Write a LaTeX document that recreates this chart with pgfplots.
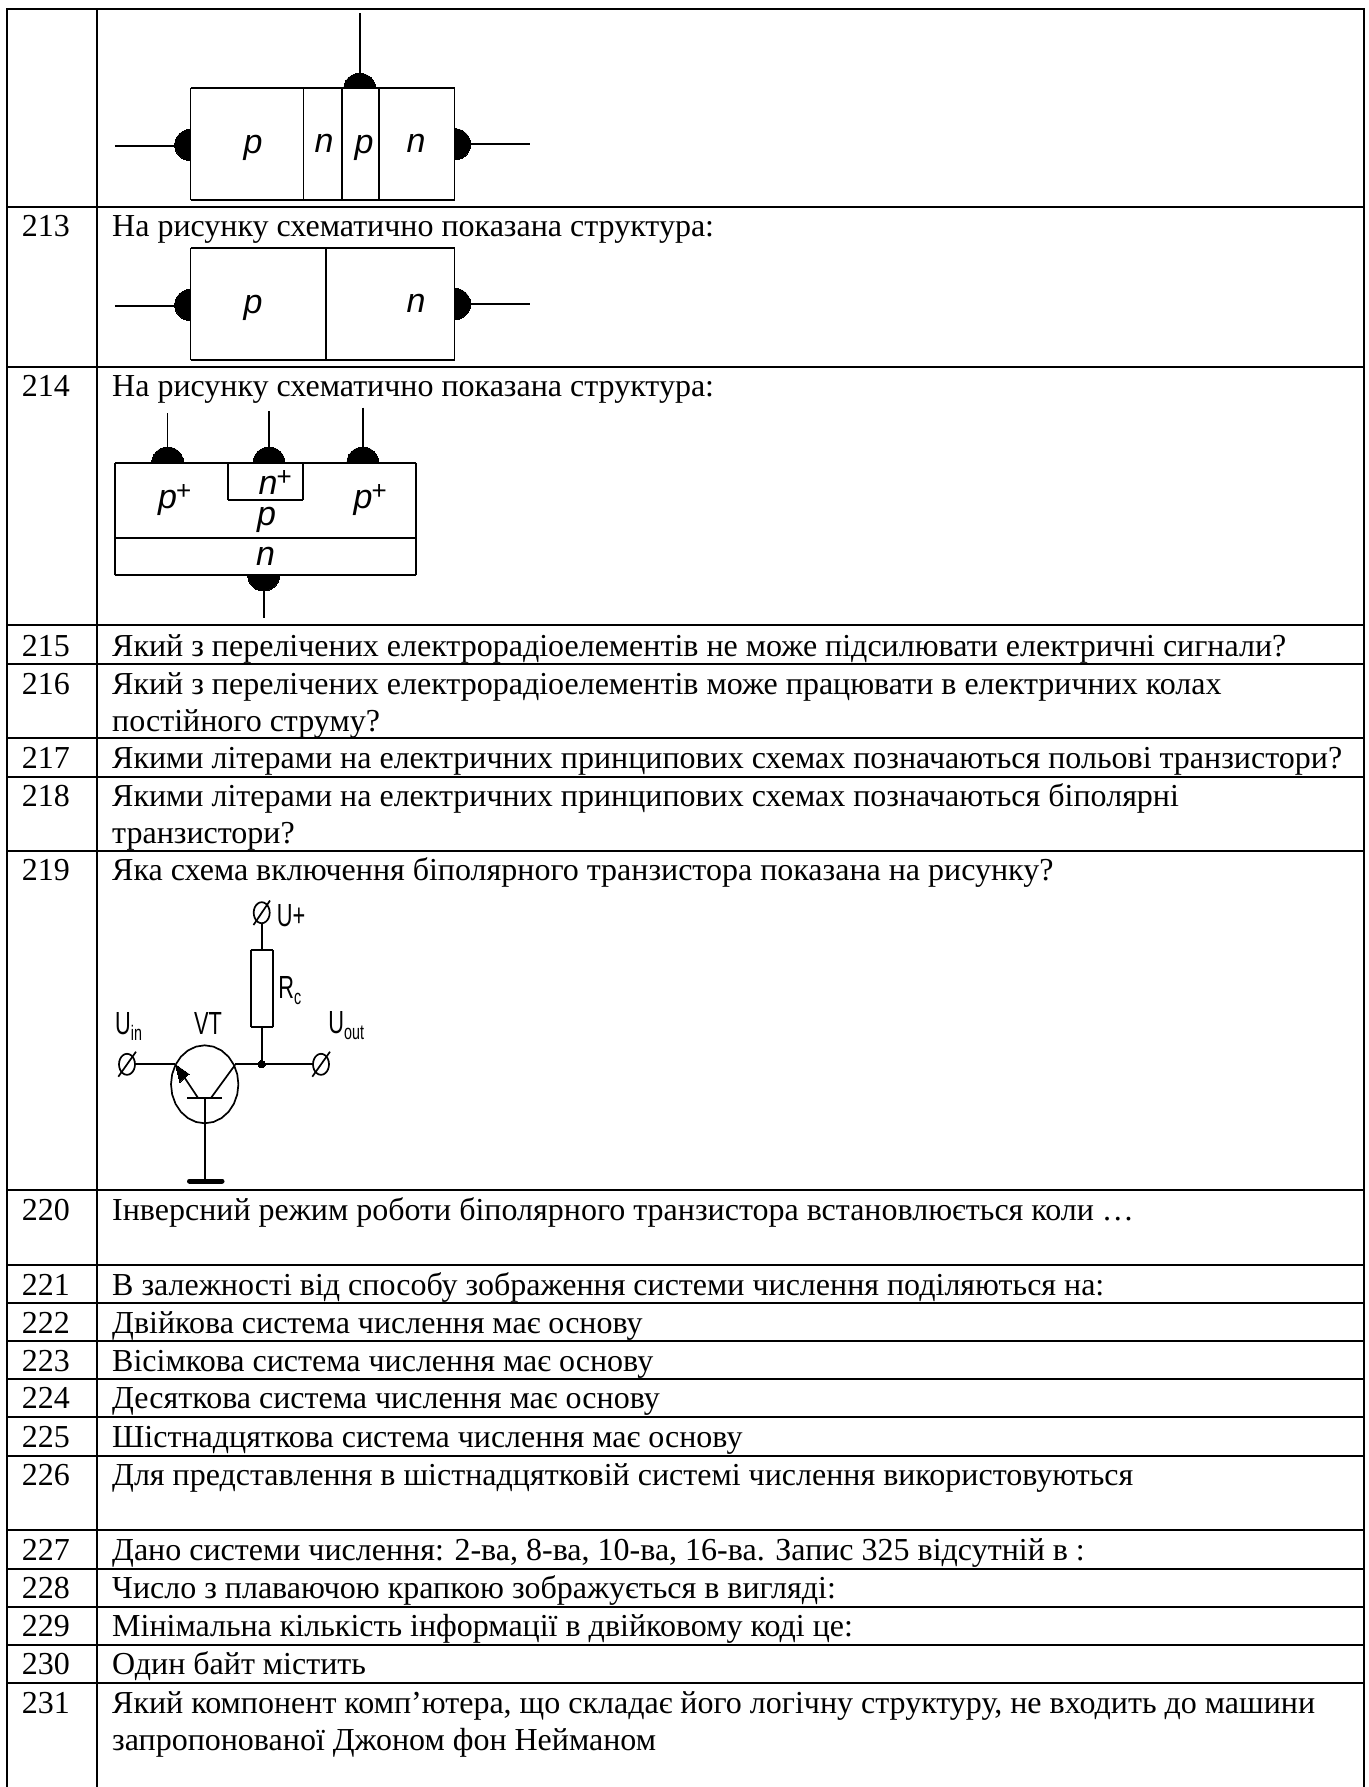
\documentclass[border=0pt]{standalone}
\usepackage{fontspec}
\setmainfont{Liberation Serif}
\newfontfamily\arialf{Liberation Sans}
\usepackage{pgfplots}
\usepackage{pgfplotstable}
\pgfplotsset{compat=1.18}
\pgfplotstableread{
u v
1 0
.966 .259
.866 .5
.707 .707
.5 .866
.259 .966
0 1
-.259 .966
-.5 .866
-.707 .707
-.866 .5
-.966 .259
-1 0
}\halfdisc
\pgfplotstableread{
u v
1 0
.966 .259
.866 .5
.707 .707
.5 .866
.259 .966
0 1
-.259 .966
-.5 .866
-.707 .707
-.866 .5
-.966 .259
-1 0
-.966 -.259
-.866 -.5
-.707 -.707
-.5 -.866
-.259 -.966
0 -1
.259 -.966
.5 -.866
.707 -.707
.866 -.5
.966 -.259
1 0
}\fulldisc
% table rule
\newcommand\myrl[4]{\addplot[black,line width=2pt] coordinates {(#1,#2)(#3,#4)};}
% diagram wire
\newcommand\mywr[4]{\addplot[black,line width=1.7pt] coordinates {(#1,#2)(#3,#4)};}
% half discs: vertical-facing (sy<0 = up) and horizontal-facing (sx<0 = left)
\newcommand\hdv[4]{\addplot[black,fill=black,line width=0pt] table[x expr=#1+#3*\thisrow{u},y expr=#2+#4*\thisrow{v}] {\halfdisc} -- cycle;}
\newcommand\hdh[4]{\addplot[black,fill=black,line width=0pt] table[x expr=#1+#3*\thisrow{v},y expr=#2+#4*\thisrow{u}] {\halfdisc} -- cycle;}
\newcommand\myel[4]{\addplot[black,line width=1.7pt] table[x expr=#1+#3*\thisrow{u},y expr=#2+#4*\thisrow{v}] {\fulldisc};}
\newcommand\mynum[2]{\node[anchor=base west,inner sep=0pt] at (axis cs:21.7,#1) {\fontsize{32}{36}\selectfont #2};}
\newcommand\mytxt[2]{\node[anchor=base west,inner sep=0pt] at (axis cs:112,#1) {\fontsize{32}{36}\selectfont #2};}
\newcommand\mylab[3]{\node[anchor=base west,inner sep=0pt] at (axis cs:#1,#2) {\arialf\itshape\fontsize{34}{38}\selectfont #3};}
\newcommand\myplus{\kern-1pt\raisebox{9pt}{\upshape\fontsize{26}{30}\selectfont +}}
\newcommand\mynar[3]{\node[anchor=base west,inner sep=0pt,xscale=0.68] at (axis cs:#1,#2) {\arialf\fontsize{32}{36}\selectfont #3};}
\newcommand\mysb[1]{\raisebox{-6pt}{\fontsize{21}{24}\selectfont #1}}
\begin{document}
\begin{tikzpicture}
\begin{axis}[
  width=1368pt,height=1787pt,scale only axis,
  xmin=0,xmax=1368,ymin=0,ymax=1787,y dir=reverse,
  hide axis,
]
\addplot[white,fill=white,line width=0pt] coordinates {(0,0)(1368,0)(1368,1787)(0,1787)} -- cycle;
% table frame
\myrl{7}{9}{7}{1787}
\myrl{97}{9}{97}{1787}
\myrl{1364}{9}{1364}{1787}
\myrl{6}{9}{1365}{9}
\myrl{6}{207}{1365}{207}
\myrl{6}{367}{1365}{367}
\myrl{6}{625}{1365}{625}
\myrl{6}{663.5}{1365}{663.5}
\myrl{6}{737.7}{1365}{737.7}
\myrl{6}{777}{1365}{777}
\myrl{6}{851}{1365}{851}
\myrl{6}{1190}{1365}{1190}
\myrl{6}{1265}{1365}{1265}
\myrl{6}{1303}{1365}{1303}
\myrl{6}{1341}{1365}{1341}
\myrl{6}{1379}{1365}{1379}
\myrl{6}{1417}{1365}{1417}
\myrl{6}{1456}{1365}{1456}
\myrl{6}{1530}{1365}{1530}
\myrl{6}{1568.7}{1365}{1568.7}
\myrl{6}{1606.7}{1365}{1606.7}
\myrl{6}{1644.7}{1365}{1644.7}
\myrl{6}{1682.7}{1365}{1682.7}
% row numbers
\mynum{237}{213}
\mynum{396}{214}
\mynum{656}{215}
\mynum{694.3}{216}
\mynum{768.3}{217}
\mynum{806.7}{218}
\mynum{880.7}{219}
\mynum{1220}{220}
\mynum{1295}{221}
\mynum{1333.3}{222}
\mynum{1371}{223}
\mynum{1408.5}{224}
\mynum{1447}{225}
\mynum{1485}{226}
\mynum{1560.7}{227}
\mynum{1598.5}{228}
\mynum{1636.7}{229}
\mynum{1674.5}{230}
\mynum{1713}{231}
% row text
\mytxt{237}{На рисунку схематично показана структура:}
\mytxt{396}{На рисунку схематично показана структура:}
\mytxt{656}{Який з перелічених електрорадіоелементів не може підсилювати електричні сигнали?}
\mytxt{694.3}{Який з перелічених електрорадіоелементів може працювати в електричних колах}
\mytxt{731}{постійного струму?}
\mytxt{768.3}{Якими літерами на електричних принципових схемах позначаються польові транзистори?}
\mytxt{806.7}{Якими літерами на електричних принципових схемах позначаються біполярні}
\mytxt{843.3}{транзистори?}
\mytxt{880.7}{Яка схема включення біполярного транзистора показана на рисунку?}
\mytxt{1220}{Інверсний режим роботи біполярного транзистора встановлюється коли …}
\mytxt{1295}{В залежності від способу зображення системи числення поділяються на:}
\mytxt{1333.3}{Двійкова система числення має основу}
\mytxt{1371}{Вісімкова система числення має основу}
\mytxt{1408.5}{Десяткова система числення має основу}
\mytxt{1447}{Шістнадцяткова система числення має основу}
\mytxt{1485}{Для представлення в шістнадцятковій системі числення використовуються}
\mytxt{1560.7}{Дано системи числення: 2-ва, 8-ва, 10-ва, 16-ва. Запис 325 відсутній в :}
\mytxt{1598.5}{Число з плаваючою крапкою зображується в вигляді:}
\mytxt{1636.7}{Мінімальна кількість інформації в двійковому коді це:}
\mytxt{1674.5}{Один байт містить}
\mytxt{1713}{Який компонент комп’ютера, що складає його логічну структуру, не входить до машини}
\mytxt{1750}{запропонованої Джоном фон Нейманом}
% diagram 1
\mywr{190.6}{88.3}{454.6}{88.3}
\mywr{454.6}{88.3}{454.6}{200}
\mywr{454.6}{200}{190.6}{200}
\mywr{190.6}{200}{190.6}{88.3}
\mywr{303.5}{88.3}{303.5}{200}
\mywr{341.7}{88.3}{341.7}{200}
\mywr{379.3}{88.3}{379.3}{200}
\mywr{359.7}{13.3}{359.7}{78}
\mywr{114.8}{146}{180}{146}
\mywr{465}{144.3}{530.4}{144.3}
\hdv{359.7}{88.3}{16}{-15}
\hdh{190.6}{145}{-16}{15.7}
\hdh{454.6}{144.3}{16}{15.7}
\mylab{243.5}{153.3}{p}
\mylab{314.5}{152.7}{n}
\mylab{354.5}{153.3}{p}
\mylab{406.5}{152.7}{n}
% diagram 2
\mywr{190.6}{248.3}{454.6}{248.3}
\mywr{454.6}{248.3}{454.6}{360}
\mywr{454.6}{360}{190.6}{360}
\mywr{190.6}{360}{190.6}{248.3}
\mywr{326}{248.3}{326}{360}
\mywr{114.8}{305.7}{180}{305.7}
\mywr{465}{304}{530.4}{304}
\hdh{190.6}{305}{-16}{15.7}
\hdh{454.6}{304}{16}{15.7}
\mylab{243.5}{313.3}{p}
\mylab{406.5}{312.3}{n}
% diagram 3
\mywr{114.8}{462.7}{416}{462.7}
\mywr{416}{462.7}{416}{575.3}
\mywr{416}{575.3}{114.8}{575.3}
\mywr{114.8}{575.3}{114.8}{462.7}
\mywr{114.8}{538}{416}{538}
\mywr{227.7}{462.7}{227.7}{500}
\mywr{227.7}{500}{303}{500}
\mywr{303}{500}{303}{462.7}
\mywr{167.6}{413.3}{167.6}{452}
\mywr{269}{411.3}{269}{452}
\mywr{362.8}{407.7}{362.8}{452}
\mywr{263.7}{585}{263.7}{618.3}
\hdv{167.6}{462.7}{16}{-15.7}
\hdv{269}{462.7}{16}{-15.7}
\hdv{362.8}{462.7}{16}{-15.7}
\hdv{263.7}{575.3}{16}{15.7}
\mylab{158}{508.3}{p\myplus}
\mylab{258.5}{494}{n\myplus}
\mylab{257}{525}{p}
\mylab{353.5}{508.3}{p\myplus}
\mylab{256}{565}{n}
% circuit
\myel{261.7}{912.7}{8}{10.5}
\mywr{253.5}{925}{270}{900.5}
\myel{127}{1064.3}{8}{10.5}
\mywr{118.3}{1076.7}{136}{1051.7}
\myel{321}{1064.3}{8}{10.5}
\mywr{312.3}{1076.7}{330}{1051.7}
\mywr{261.7}{923.3}{261.7}{950}
\mywr{250.7}{950}{273.3}{950}
\mywr{273.3}{950}{273.3}{1027.3}
\mywr{273.3}{1027.3}{250.7}{1027.3}
\mywr{250.7}{1027.3}{250.7}{950}
\mywr{261.7}{1027.3}{261.7}{1064.3}
\addplot[black,fill=black,line width=0pt] table[x expr=261.7+3.5*\thisrow{u},y expr=1064.3+3.5*\thisrow{v}] {\fulldisc};
\mywr{135}{1064.3}{175}{1064.3}
\mywr{235}{1064.3}{313}{1064.3}
\myel{204.7}{1084.3}{33.7}{39}
\mywr{187.3}{1098.3}{221.7}{1098.3}
\mywr{204.7}{1098.3}{204.7}{1181}
\addplot[black,line width=5pt,line cap=round] coordinates {(189.5,1181)(222,1181)};
\mywr{198.3}{1098.3}{177.3}{1066.7}
\mywr{210.7}{1098.3}{235}{1065}
\addplot[black,fill=black,line width=0pt] coordinates {(175.5,1064.5)(189,1074)(180,1082)} -- cycle;
\mynar{276.7}{926}{U+}
\mynar{115}{1034}{U\mysb{in}}
\mynar{194}{1034}{VT}
\mynar{278.3}{998.3}{R\mysb{c}}
\mynar{328.3}{1033}{U\mysb{out}}
\end{axis}
\end{tikzpicture}
\end{document}
